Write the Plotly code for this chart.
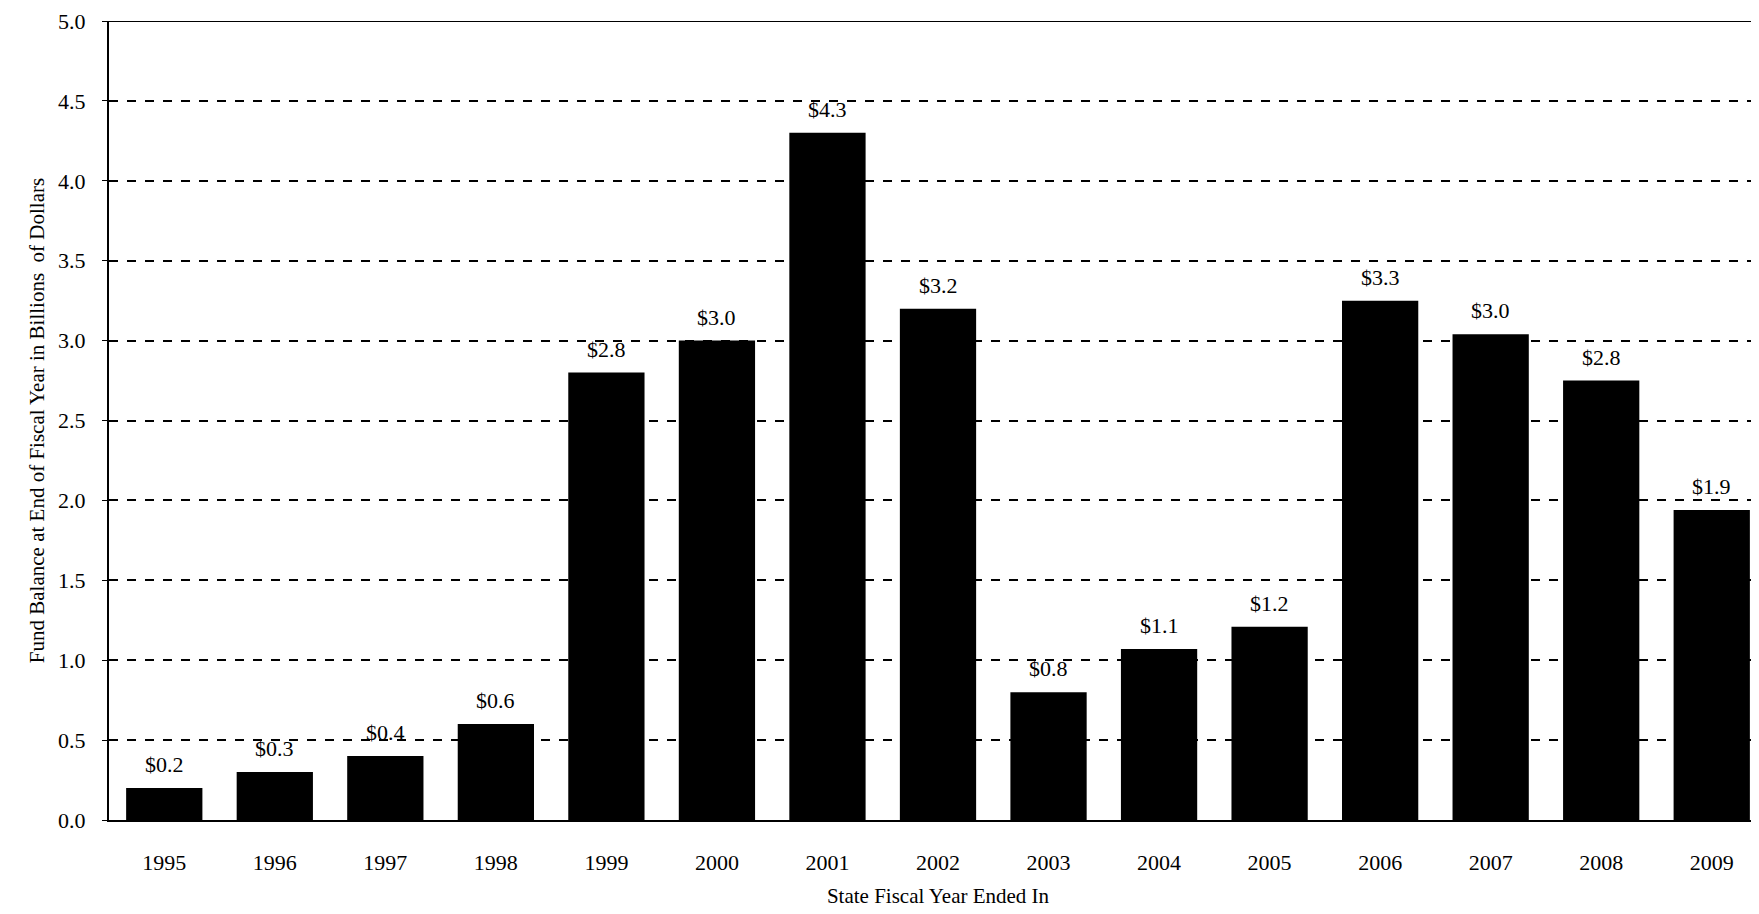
import plotly.graph_objects as go

years = ["1995", "1996", "1997", "1998", "1999", "2000", "2001", "2002",
         "2003", "2004", "2005", "2006", "2007", "2008", "2009"]
balances = [0.2, 0.3, 0.4, 0.6, 2.8, 3.0, 4.3, 3.2, 0.8, 1.07, 1.21, 3.25, 3.04, 2.75, 1.94]
labels = ["$0.2", "$0.3", "$0.4", "$0.6", "$2.8", "$3.0", "$4.3", "$3.2",
          "$0.8", "$1.1", "$1.2", "$3.3", "$3.0", "$2.8", "$1.9"]
y_ticks = [0.0, 0.5, 1.0, 1.5, 2.0, 2.5, 3.0, 3.5, 4.0, 4.5, 5.0]

font = "Liberation Serif, Times New Roman, serif"

fig = go.Figure(
    go.Bar(
        x=years,
        y=balances,
        marker=dict(color="black", line=dict(width=0)),
        width=0.69,
    )
)

# value labels sit a little above each bar (category index for x)
annotations = [
    dict(x=i, y=v, xref="x", yref="y", text=lab, showarrow=False,
         yanchor="bottom", yshift=9,
         font=dict(family=font, size=22, color="black"))
    for i, (v, lab) in enumerate(zip(balances, labels))
]

fig.update_layout(
    width=1759,
    height=914,
    plot_bgcolor="white",
    paper_bgcolor="white",
    margin=dict(l=101, r=0, t=13, b=102),
    showlegend=False,
    font=dict(family=font, size=22, color="black"),
    annotations=annotations,
    shapes=[dict(type="line", xref="paper", yref="y", x0=0, x1=1, y0=5, y1=5,
                 line=dict(color="black", width=2))],
)
fig.update_xaxes(
    type="category",
    showline=True, linecolor="black", linewidth=2,
    showgrid=False, ticks="", ticklabelstandoff=22,
    range=[-0.5, 14.5],
    title=dict(text="State Fiscal Year Ended In", font=dict(size=21), standoff=14),
)
fig.update_yaxes(
    range=[0, 5], tickvals=y_ticks, tickformat=".1f",
    showline=True, linecolor="black", linewidth=2,
    ticks="outside", ticklen=5, tickcolor="black", ticklabelstandoff=12,
    showgrid=True, gridcolor="black", gridwidth=1.5, griddash="dash",
    zeroline=False,
    title=dict(text="Fund Balance at End of Fiscal Year in Billions  of Dollars",
               font=dict(size=21), standoff=8),
)

fig.write_html("out.html")
